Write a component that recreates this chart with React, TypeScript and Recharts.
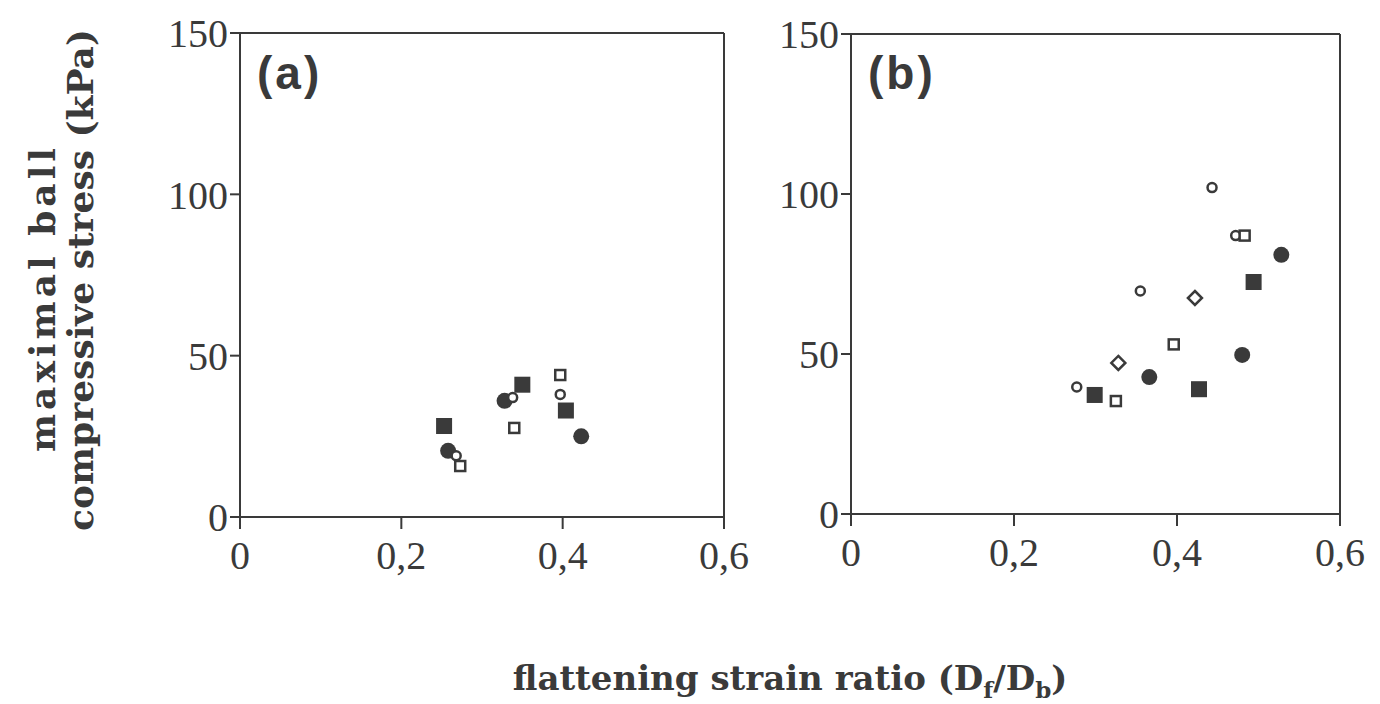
import React from 'react';
import {
  ScatterChart,
  Scatter,
  XAxis,
  YAxis,
  ReferenceLine,
} from 'recharts';

// panel (a)
const aFilledCircle = [
  { x: 0.258, y: 20.5 },
  { x: 0.328, y: 36 },
  { x: 0.423, y: 25 },
];
const aOpenCircle = [
  { x: 0.268, y: 19 },
  { x: 0.338, y: 37 },
  { x: 0.397, y: 38 },
];
const aFilledSquare = [
  { x: 0.253, y: 28.2 },
  { x: 0.350, y: 41 },
  { x: 0.404, y: 33 },
];
const aOpenSquare = [
  { x: 0.273, y: 15.8 },
  { x: 0.340, y: 27.6 },
  { x: 0.397, y: 44 },
];

// panel (b)
const bFilledCircle = [
  { x: 0.366, y: 42.8 },
  { x: 0.480, y: 49.7 },
  { x: 0.528, y: 81 },
];
const bOpenCircle = [
  { x: 0.277, y: 39.7 },
  { x: 0.355, y: 69.7 },
  { x: 0.443, y: 102 },
  { x: 0.472, y: 87 },
];
const bFilledSquare = [
  { x: 0.299, y: 37.2 },
  { x: 0.427, y: 39 },
  { x: 0.494, y: 72.5 },
];
const bOpenSquare = [
  { x: 0.325, y: 35.3 },
  { x: 0.396, y: 53 },
  { x: 0.483, y: 87 },
];
const bOpenDiamond = [
  { x: 0.328, y: 47.2 },
  { x: 0.422, y: 67.5 },
];

const xTicks = [0, 0.2, 0.4, 0.6];
const yTicks = [0, 50, 100, 150];

const INK = '#3a3a3a';
const SERIF = '"Liberation Serif", "Times New Roman", serif';

const FilledCircle = (p: any) => <circle cx={p.cx} cy={p.cy} r={8} fill={INK} />;
const OpenCircle = (p: any) => (
  <circle cx={p.cx} cy={p.cy} r={4.5} fill="#fff" stroke={INK} strokeWidth={2.5} />
);
const FilledSquare = (p: any) => (
  <rect x={p.cx - 8} y={p.cy - 8} width={16} height={16} fill={INK} />
);
const OpenSquare = (p: any) => (
  <rect x={p.cx - 5} y={p.cy - 5} width={10} height={10} fill="#fff" stroke={INK} strokeWidth={2.5} />
);
const OpenDiamond = (p: any) => (
  <path
    d={`M${p.cx},${p.cy - 7} L${p.cx + 7},${p.cy} L${p.cx},${p.cy + 7} L${p.cx - 7},${p.cy} Z`}
    fill="#fff"
    stroke={INK}
    strokeWidth={2.5}
  />
);

const tickStyle = { fill: INK, fontSize: 40, fontFamily: SERIF };
const fmtX = (v: number) => (v === 0 ? '0' : String(v).replace('.', ','));

interface PanelProps {
  left: number;
  width: number;
  yAxisWidth: number;
  margin: { top: number; right: number; left: number; bottom: number };
  series: { data: { x: number; y: number }[]; shape: any; name: string }[];
}

const Panel: React.FC<PanelProps> = ({ left, width, yAxisWidth, margin, series }) => (
  <div style={{ position: 'absolute', left, top: 0 }}>
    <ScatterChart width={width} height={600} margin={margin}>
      <XAxis
        type="number"
        dataKey="x"
        domain={[0, 0.6]}
        ticks={xTicks}
        tickFormatter={fmtX}
        height={60}
        tickSize={12}
        tickMargin={12}
        stroke={INK}
        strokeWidth={2}
        tick={tickStyle}
        allowDataOverflow
      />
      <YAxis
        type="number"
        dataKey="y"
        domain={[0, 150]}
        ticks={yTicks}
        width={yAxisWidth}
        tickSize={10}
        tickMargin={2}
        stroke={INK}
        strokeWidth={2}
        tick={tickStyle}
        allowDataOverflow
      />
      <ReferenceLine y={150} stroke={INK} strokeWidth={2} />
      <ReferenceLine x={0.6} stroke={INK} strokeWidth={2} />
      {series.map((s) => (
        <Scatter key={s.name} name={s.name} data={s.data} shape={s.shape} isAnimationActive={false} />
      ))}
    </ScatterChart>
  </div>
);

export default function App() {
  return (
    <div
      style={{
        position: 'absolute',
        left: 0,
        top: 0,
        width: 1380,
        height: 704,
        background: '#fff',
        overflow: 'hidden',
      }}
    >
      <Panel
        left={110}
        width={640}
        yAxisWidth={130}
        margin={{ top: 33, right: 26, left: 0, bottom: 23 }}
        series={[
          { name: 'a-fc', data: aFilledCircle, shape: FilledCircle },
          { name: 'a-fs', data: aFilledSquare, shape: FilledSquare },
          { name: 'a-oc', data: aOpenCircle, shape: OpenCircle },
          { name: 'a-os', data: aOpenSquare, shape: OpenSquare },
        ]}
      />
      <Panel
        left={720}
        width={660}
        yAxisWidth={131}
        margin={{ top: 34, right: 40, left: 0, bottom: 26 }}
        series={[
          { name: 'b-fc', data: bFilledCircle, shape: FilledCircle },
          { name: 'b-fs', data: bFilledSquare, shape: FilledSquare },
          { name: 'b-oc', data: bOpenCircle, shape: OpenCircle },
          { name: 'b-os', data: bOpenSquare, shape: OpenSquare },
          { name: 'b-od', data: bOpenDiamond, shape: OpenDiamond },
        ]}
      />

      <svg
        style={{ position: 'absolute', left: 0, top: 0, pointerEvents: 'none' }}
        width={1380}
        height={704}
      >
        {/* panel tags */}
        <g fontFamily='"Liberation Sans", Arial, sans-serif' fontWeight="bold" fontSize={46} fill={INK} letterSpacing={3}>
          <text x={257} y={89}>(a)</text>
          <text x={868} y={89}>(b)</text>
        </g>
        {/* axis titles */}
        <g fontFamily='"DejaVu Serif", serif' fontWeight="bold" fontSize={36} fill={INK} textAnchor="middle">
          <text transform="translate(55,298) rotate(-90)" letterSpacing={4}>maximal ball</text>
          <text transform="translate(93,280) rotate(-90)">compressive stress (kPa)</text>
          <text x={790} y={690} fontSize={34}>
            flattening strain ratio (D
            <tspan fontSize={23} dy={8}>f</tspan>
            <tspan dy={-8}>/D</tspan>
            <tspan fontSize={23} dy={8}>b</tspan>
            <tspan dy={-8}>)</tspan>
          </text>
        </g>
      </svg>
    </div>
  );
}
